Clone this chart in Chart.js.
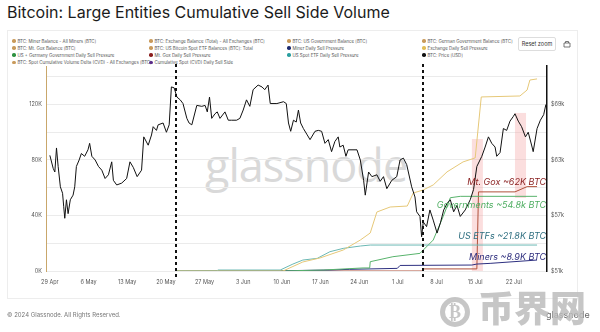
<!DOCTYPE html>
<html>
<head>
<meta charset="utf-8">
<script src="https://cdn.jsdelivr.net/npm/chart.js@4.4.1/dist/chart.umd.min.js"></script>
<style>
body{margin:0;width:600px;height:332px;background:#fff;position:relative;overflow:hidden;font-family:Inter,"Noto Sans",sans-serif}
#title{position:absolute;left:7px;top:2px;font-size:16px;color:#1b1b1b;white-space:nowrap}
#card{position:absolute;left:7px;top:30px;width:571px;height:269px;border:1px solid #ededed;box-sizing:border-box}
#mark{position:absolute;left:205px;top:134px;font-size:45px;color:#d9d9d9;font-family:"Open Sans",sans-serif;letter-spacing:-1px}
#legend div{position:absolute;font-size:4.4px;color:#555;white-space:nowrap;line-height:7px}
#legend i{display:inline-block;width:3.5px;height:3.5px;border-radius:50%;margin-right:2px;vertical-align:0}
#reset{position:absolute;left:518px;top:37px;width:36px;height:12px;border:1px solid #ddd;border-radius:2px;font-size:5.5px;color:#333;text-align:center;line-height:12px}
#foot{position:absolute;left:7px;top:311px;font-size:6px;color:#777}
#logo{position:absolute;left:546px;top:309px;font-size:9px;color:#666}
#bj{position:absolute;left:440px;top:284px;color:#bdbdbd;font-family:"Noto Sans CJK SC";font-weight:900;font-size:36px;line-height:44px;opacity:.85}
#bj span{display:inline-block;width:30px;height:30px;border:5px solid #bdbdbd;border-radius:50%;box-sizing:border-box;font-size:18px;line-height:20px;text-align:center;vertical-align:4px;margin-right:8px;font-family:"DejaVu Sans"}
canvas{position:absolute;left:0;top:0}
</style>
</head>
<body>
<div id="title">Bitcoin: Large Entities Cumulative Sell Side Volume</div>
<div id="card"></div>
<div id="mark">glassnode</div>
<div id="legend"></div>
<div id="reset">Reset zoom</div>
<svg style="position:absolute;left:563px;top:40px" width="8" height="8"><path d="M1 3h6v4H1zM2.5 3V1.5h3V3" fill="none" stroke="#555" stroke-width="0.8"/></svg>
<canvas id="c" width="600" height="332"></canvas>
<div id="foot">© 2024 Glassnode. All Rights Reserved.</div>
<div id="logo">glassnode</div>
<div id="bj"><span>₿</span>币界网</div>
<script>
// x = days since 29 Apr 2024
const tickDays = [0,7,14,21,28,35,42,49,56,63,70,77,84];
const tickLabels = ["29 Apr","6 May","13 May","20 May","27 May","3 Jun","10 Jun","17 Jun","24 Jun","1 Jul","8 Jul","15 Jul","22 Jul"];

// BTC price [k USD], right axis
const priceDays = [0,0.6,0.9,1.2,1.5,1.9,2.3,2.5,2.7,3.0,3.3,3.7,4.2,4.5,4.8,5.3,5.7,6.3,6.9,7.2,7.6,8.2,8.8,9.4,10.0,10.6,11.2,11.5,12.1,13.0,13.9,14.5,15.1,15.8,16.6,17.0,17.8,18.4,18.7,19.3,19.6,20.5,21.1,21.6,22.0,22.5,23.0,23.6,24.1,24.8,25.2,25.7,26.6,27.5,28.1,28.5,28.9,29.3,29.9,30.3,30.8,31.7,32.3,32.9,33.8,34.4,35.0,35.6,36.2,36.8,37.7,38.4,38.9,39.5,39.9,41.1,42.3,42.8,43.2,43.6,44.1,44.6,45.0,45.4,45.9,46.5,47.1,48.0,48.6,49.2,49.8,50.4,51.0,51.6,52.2,52.5,53.1,53.6,54.0,54.7,55.6,56.2,56.8,57.1,57.7,58.3,59.2,59.8,60.4,61.0,61.9,62.8,63.4,64.0,64.6,65.5,66.1,66.4,67.0,67.3,67.6,68.2,68.8,69.4,70.1,70.7,71.3,71.9,72.5,73.1,73.7,74.3,75.2,76.1,76.7,77.3,78.2,78.8,79.4,80.0,80.6,80.9,81.5,82.1,82.7,83.3,83.9,84.2,84.8,85.4,86.1,86.6,87.3,87.5,88.2,88.8,89.4,89.8];
const priceVals = [63.5,62.1,61.7,64.3,62.3,60.1,59.4,58.0,56.7,58.7,57.2,58.7,59.2,60.1,62.3,63.0,63.7,63.4,64.1,64.8,63.4,63.0,62.3,61.9,61.0,61.4,62.8,60.8,60.3,60.5,61.0,62.8,62.2,61.2,61.9,65.5,64.6,65.7,66.6,66.2,66.8,67.0,66.0,66.8,70.9,70.8,69.8,69.5,69.1,67.5,67.0,66.8,68.9,68.8,68.9,68.2,69.8,67.5,68.0,68.2,67.5,68.2,67.3,67.3,67.3,67.5,68.4,69.5,68.8,70.6,71.1,70.9,70.6,71.1,69.1,69.1,69.3,69.1,67.0,66.1,67.3,67.1,68.4,67.0,66.4,65.8,65.2,66.1,66.2,66.1,64.8,65.2,63.9,65.0,65.5,64.4,64.6,63.4,64.1,64.1,64.1,63.0,60.8,59.2,61.7,61.2,61.4,60.7,61.2,59.9,60.8,61.2,63.0,63.2,62.5,60.1,59.0,57.4,56.9,54.7,56.3,55.8,57.6,56.5,55.1,56.2,57.6,58.3,58.7,57.4,58.1,56.9,57.6,58.7,59.8,62.3,63.4,64.4,65.5,64.8,64.4,63.4,63.8,66.4,66.2,67.2,67.7,68.0,67.2,66.6,65.5,66.0,64.4,63.9,66.4,67.3,67.9,69.0];

// cumulative sell side volume [K BTC], left axis
const exchangeDays = [23,42.2,45.8,48.9,53.1,56.2,58.0,59.2,61.6,64.7,65.8,67.6,69.4,71.9,74.8,77.0,78.1,85.1,86.4,86.9,88.2];
const exchangeVals = [0,0,6.5,9.4,15.1,22.3,27.4,42.5,46.1,46.8,56.2,58.4,62.0,71.4,78.6,81.5,125.4,126.1,130.4,137.6,138.4];
const etfDays = [23,30.3,30.4,41.7,44.0,45.8,48.4,50.7,53.1,56.2,58.0,88.2];
const etfVals = [0,0,0.7,0.7,5.0,7.9,9.1,13.9,16.3,18.0,18.7,18.7];
const govDays = [23,41.7,49.5,56.7,57.9,58.0,62.1,67.0,69.4,71.2,72.5,74.3,88.2];
const govVals = [0,0,0.7,2.2,2.2,6.7,10.3,12.7,22.3,39.2,52.8,53.8,53.8];
const minerDays = [23,30.8,42.2,50.7,54.3,62.9,63.4,76.4,77.3,79.7,88.2];
const minerVals = [0,0.2,0.2,0.7,1.2,1.9,4.0,4.3,5.0,5.5,7.9];
const goxDays = [23,67.4,67.5,77.3,77.6,84.2,86.4,88.2];
const goxVals = [0,0,1.5,1.5,57,57,60.8,60.8];

// Mt. Gox distribution windows (days / K BTC)
const shadeFrom = [76.4,84.2];
const shadeTo = [78.4,86.2];
const shadeLow = [0,52.6];
const shadeHigh = [95.1,113.9];
const eventDays = [22.8,67.5];

const annoText = ["Mt. Gox ~62K BTC","Governments ~54.8k BTC","US ETFs ~21.8K BTC","Miners ~8.9K BTC"];
const annoLevel = [64.1,47.6,25.2,10.1];

const legendLabels = [
  "BTC: Miner Balance - All Miners [BTC]","BTC: Exchange Balance (Total) - All Exchanges [BTC]","BTC: US Government Balance [BTC]","BTC: German Government Balance [BTC]",
  "BTC: Mt. Gox Balance [BTC]","BTC: US Bitcoin Spot ETF Balances [BTC]: Total","Miner Daily Sell Pressure","Exchange Daily Sell Pressure",
  "US + Germany Government Daily Sell Pressure","Mt. Gox Daily Sell Pressure","US Spot ETF Daily Sell Pressure","BTC: Price [USD]",
  "BTC: Spot Cumulative Volume Delta (CVD) - All Exchanges [BTC]","Cumulative Spot (CVD) Daily Sell Side"];
const legendColors = ["#c99a5b","#c99a5b","#c99a5b","#c99a5b","#c99a5b","#c99a5b","#1d2a6e","#e2bd55","#2e9140","#8b1e1e","#2a9fa0","#111111","#c99a5b","#5a2a88"];

// ----------------------------
// legend (4 columns)
// ----------------------------
const legCols = [12,149,287,422];
const legRows = [37.5,44.5,51.5,59];
let lh = "";
legendLabels.forEach((t,i) => {
  lh += `<div style="left:${legCols[i%4]}px;top:${legRows[Math.floor(i/4)]}px"><i style="background:${legendColors[i]}"></i>${t}</div>`;
});
document.getElementById("legend").innerHTML = lh;

function pts(xs, ys) { return xs.map((x,i) => ({x:x, y:ys[i]})); }
function cum(label, xs, ys, color) {
  return {label, data: pts(xs,ys), yAxisID:"y", borderColor:color, borderWidth:1, pointRadius:0, tension:0, fill:false};
}

const overlay = {
  id:"overlay",
  beforeDatasetsDraw(chart) {
    const {ctx, scales:{x,y}} = chart;
    ctx.save();
    ctx.fillStyle = "rgba(243,160,160,0.35)";
    shadeFrom.forEach((f,i) => {
      const x0 = x.getPixelForValue(f), x1 = x.getPixelForValue(shadeTo[i]);
      const y0 = y.getPixelForValue(shadeHigh[i]), y1 = y.getPixelForValue(shadeLow[i]);
      ctx.fillRect(x0, y0, x1-x0, y1-y0);
    });
    ctx.restore();
  },
  afterDatasetsDraw(chart) {
    const {ctx, chartArea, scales:{x,y}} = chart;
    ctx.save();
    ctx.strokeStyle = "#111"; ctx.lineWidth = 2; ctx.setLineDash([3,3]);
    eventDays.forEach(d => {
      const px = Math.round(x.getPixelForValue(d));
      ctx.beginPath(); ctx.moveTo(px, chartArea.top-2); ctx.lineTo(px, chartArea.bottom+8); ctx.stroke();
    });
    ctx.setLineDash([]);
    const annoColor = ["#8b2323","#4fae62","#2f6f80","#2b2b7c"];
    ctx.font = "italic 9px Inter, 'Noto Sans', sans-serif";
    ctx.textAlign = "right"; ctx.textBaseline = "middle";
    annoText.forEach((t,i) => {
      ctx.fillStyle = annoColor[i];
      ctx.fillText(t, chartArea.right-1, y.getPixelForValue(annoLevel[i]));
    });
    ctx.restore();
  }
};

const tickFont = {size:5.5, family:"Inter, 'Noto Sans', sans-serif"};

new Chart(document.getElementById("c").getContext("2d"), {
  type:"line",
  data:{datasets:[
    {label:"BTC: Price [USD]", data:pts(priceDays,priceVals), yAxisID:"y1", borderColor:"#111", borderWidth:1, pointRadius:0, tension:0},
    cum("Exchange Daily Sell Pressure", exchangeDays, exchangeVals, "#e6c878"),
    cum("US Spot ETF Daily Sell Pressure", etfDays, etfVals, "#6bb8b4"),
    cum("US + Germany Government Daily Sell Pressure", govDays, govVals, "#58b36c"),
    cum("Miner Daily Sell Pressure", minerDays, minerVals, "#2d2f80"),
    cum("Mt. Gox Daily Sell Pressure", goxDays, goxVals, "#b0503a")
  ]},
  options:{
    responsive:false, animation:false, events:[],
    layout:{padding:{top:66, bottom:41, left:0, right:0}},
    plugins:{legend:{display:false}, tooltip:{enabled:false}},
    scales:{
      x:{type:"linear", min:-0.7, max:90,
        grid:{display:false, drawTicks:false}, border:{display:false},
        afterBuildTicks: s => { s.ticks = tickDays.map(v => ({value:v})); },
        afterFit: s => { s.height = 20; },
        ticks:{callback: v => tickLabels[tickDays.indexOf(v)], font:tickFont, color:"#555", maxRotation:0, autoSkip:false, padding:8}},
      y:{position:"left", min:0, max:147.7,
        afterFit: s => { s.width = 46; },
        grid:{color:"#ebebeb", drawTicks:false},
        border:{color:"#c9a76b", width:1},
        ticks:{stepSize:20, includeBounds:false, font:tickFont, color:"#555", padding:4,
          callback: v => (v % 40 === 0 ? v + "K" : "")}},
      y1:{position:"right", min:51, max:73.16,
        afterFit: s => { s.width = 53; },
        grid:{display:false, drawTicks:false},
        border:{color:"#111", width:1.5},
        ticks:{stepSize:3, includeBounds:false, font:tickFont, color:"#555", padding:4,
          callback: v => ((v - 51) % 6 === 0 ? "$" + v + "k" : "")}}
    }
  },
  plugins:[overlay]
});
</script>
</body>
</html>
